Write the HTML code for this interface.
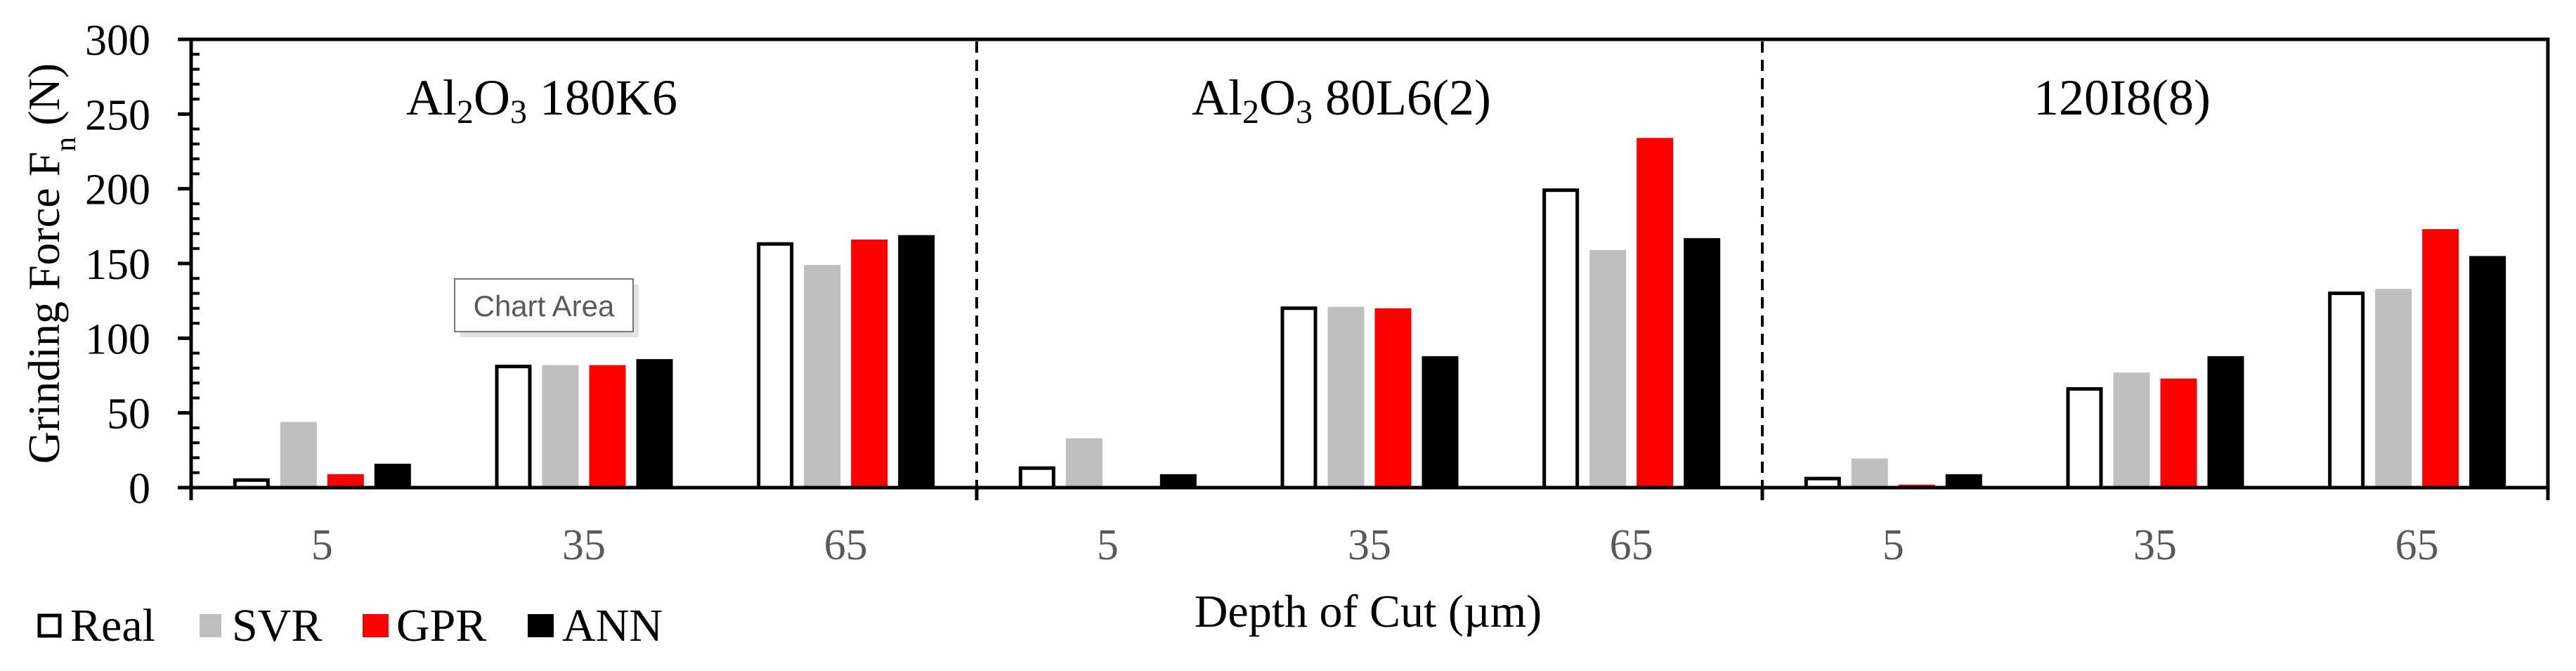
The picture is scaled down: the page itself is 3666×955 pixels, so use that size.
<!DOCTYPE html>
<html><head><meta charset="utf-8">
<style>
html,body{margin:0;padding:0;background:#fff;}
svg{display:block;font-family:"Liberation Serif",serif;}
</style></head>
<body>
<svg id="chart" width="3666" height="955" viewBox="0 0 3666 955" xmlns="http://www.w3.org/2000/svg">
<g id="grid"></g>
<g id="bars"></g>
<g id="axes"></g>
<text x="0" y="0" transform="translate(84,375) rotate(-90)" text-anchor="middle" font-size="64" fill="#000">Grinding Force F<tspan baseline-shift="sub" font-size="42">n</tspan> (N)</text>
<text x="1947" y="892" text-anchor="middle" font-size="66" fill="#000">Depth of Cut (µm)</text>
<text x="771" y="163" text-anchor="middle" font-size="72">Al<tspan baseline-shift="-25%" font-size="48">2</tspan>O<tspan baseline-shift="-25%" font-size="48">3</tspan> 180K6</text>
<text x="1909" y="163" text-anchor="middle" font-size="72">Al<tspan baseline-shift="-25%" font-size="48">2</tspan>O<tspan baseline-shift="-25%" font-size="48">3</tspan> 80L6(2)</text>
<text x="3020" y="163" text-anchor="middle" font-size="72">120I8(8)</text>
<g>
  <rect x="56" y="876" width="29" height="29" fill="#fff" stroke="#000" stroke-width="5"/>
  <text x="100" y="912" font-size="66">Real</text>
  <rect x="284" y="874" width="31" height="33" fill="#bfbfbf"/>
  <text x="330" y="912" font-size="66">SVR</text>
  <rect x="516" y="874" width="37" height="33" fill="#ff0000"/>
  <text x="564" y="912" font-size="66">GPR</text>
  <rect x="751" y="874" width="37" height="33" fill="#000"/>
  <text x="800" y="912" font-size="66">ANN</text>
</g>
<g>
  <rect x="655" y="405" width="254" height="75" fill="#cfcfcf" opacity="0.6"/>
  <rect x="647" y="397" width="254" height="75" fill="#fff" stroke="#767676" stroke-width="2"/>
  <text x="774" y="450" text-anchor="middle" font-family="'Liberation Sans',sans-serif" font-size="42" fill="#5a5a5a">Chart Area</text>
</g>
</svg>
<script>
const categories = ["5","35","65","5","35","65","5","35","65"];
const panels = ["Al2O3 180K6","Al2O3 80L6(2)","120I8(8)"];
const realVals = [6,82,164, 14,121,200, 7,67,131];
const svrVals  = [44,82,149, 33,121,159, 19.5,77,133];
const gprVals  = [9,82,166, 0,120,234, 2,73,173];
const annVals  = [16,86,169, 9,88,167, 9,88,155];
const yTicks = [0,50,100,150,200,250,300];

const NS="http://www.w3.org/2000/svg";
const X0=272, X1=3626, Y0=694, Y1=56, YMAX=300;
const catW=(X1-X0)/categories.length;
function yScale(v){return Y0-(v/YMAX)*(Y0-Y1);}
function xCenter(i){return X0+catW*(i+0.5);}
function mk(tag,attrs,parent){const e=document.createElementNS(NS,tag);for(const k in attrs)e.setAttribute(k,attrs[k]);parent.appendChild(e);return e;}
const bars=document.getElementById('bars'), axes=document.getElementById('axes');
const series=[{n:'real',v:realVals,fill:'#fff',stroke:'#000'},{n:'svr',v:svrVals,fill:'#bfbfbf'},{n:'gpr',v:gprVals,fill:'#ff0000'},{n:'ann',v:annVals,fill:'#000'}];
const offs=[-100.5,-33.5,33.5,100.5], bw=52;
series.forEach((s,si)=>{
  s.v.forEach((val,i)=>{
    const cx=xCenter(i)+offs[si], top=yScale(val);
    let r;
    if(s.stroke){
      r=mk('rect',{x:cx-bw/2+2.5,y:top+2,width:bw-5,height:Math.max(0,Y0-top-2),fill:s.fill,stroke:s.stroke,'stroke-width':5},bars);
    } else {
      r=mk('rect',{x:cx-bw/2,y:top,width:bw,height:Y0-top,fill:s.fill},bars);
    }
    
    
  });
});
let fr=mk('rect',{x:X0,y:Y1,width:X1-X0,height:Y0-Y1,fill:'none',stroke:'#000','stroke-width':5},axes);


for(let v=0;v<=YMAX;v+=10){
  const y=yScale(v);
  if(v%50===0){
    const t=mk('line',{x1:X0-19,x2:X0,y1:y,y2:y,stroke:'#000','stroke-width':5},axes);
    
    
  } else {
    const t=mk('line',{x1:X0,x2:X0+12,y1:y,y2:y,stroke:'#000','stroke-width':4},axes);
    
    
  }
}
yTicks.forEach(v=>{
  const t=mk('text',{x:214,y:yScale(v)+22,'text-anchor':'end','font-size':62,fill:'#000'},axes);
  t.textContent=v;
  
  
});
for(let p=0;p<=panels.length;p++){
  const x=X0+catW*3*p;
  const t=mk('line',{x1:x,x2:x,y1:Y0,y2:712,stroke:'#000','stroke-width':5},axes);
  
  
  if(p>0&&p<panels.length){
    const d=mk('line',{x1:x,x2:x,y1:Y1+3,y2:Y0,stroke:'#000','stroke-width':4,'stroke-dasharray':'16 10'},axes);
    
    
  }
}
categories.forEach((c,i)=>{
  const t=mk('text',{x:xCenter(i),y:796,'text-anchor':'middle','font-size':62,fill:'#595959'},axes);
  t.textContent=c;
  
  
});
</script>
</body></html>
